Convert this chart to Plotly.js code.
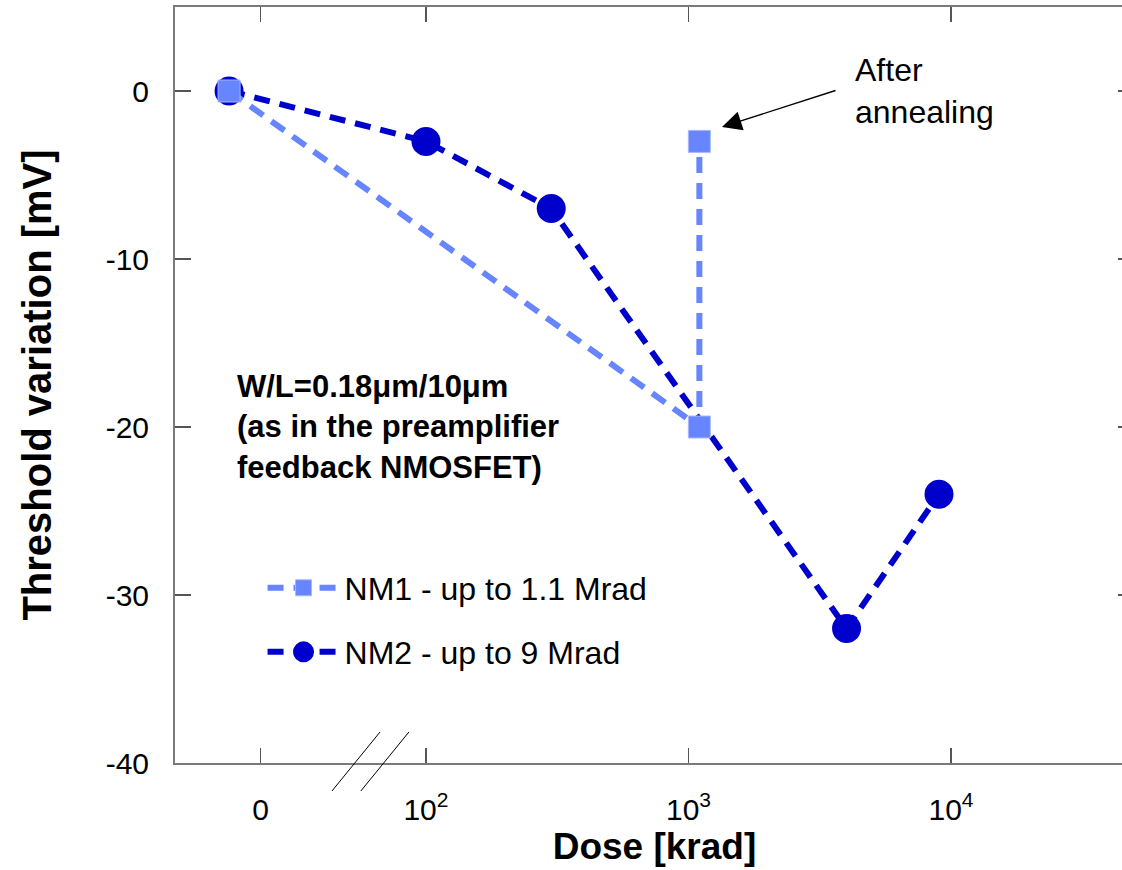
<!DOCTYPE html>
<html>
<head>
<meta charset="utf-8">
<script src="https://cdn.plot.ly/plotly-3.0.1.min.js"></script>
<style>
html, body { margin: 0; padding: 0; background: #fff; overflow: hidden; }
#chart { width: 1140px; height: 870px; }
</style>
</head>
<body>
<div id="chart"></div>
<script>
// ---- data (dose in krad, threshold variation in mV) ----
const nm1Dose = [0, 1100, 1100];
const nm1Shift = [0, -20, -3];
const nm2Dose = [0, 100, 300, 4000, 9000];
const nm2Shift = [0, -3, -7, -32, -24];
const tickDoses = [0, 100, 1000, 10000];
const tickLabels = ['0', '10<sup>2</sup>', '10<sup>3</sup>', '10<sup>4</sup>'];
const yTickVals = [0, -10, -20, -30, -40];
const yTickLabels = ['0', '-10', '-20', '-30', '-40'];
const nm1Name = 'NM1 - up to 1.1 Mrad';
const nm2Name = 'NM2 - up to 9 Mrad';

// broken log axis: zero dose is shown left of the axis break
const ZERO_POINT_POS = 1.25;
const ZERO_TICK_POS = 1.37;
function pos(d) { return d === 0 ? ZERO_POINT_POS : Math.log10(d); }
function tickPos(d) { return d === 0 ? ZERO_TICK_POS : Math.log10(d); }

const FONT = 'Liberation Sans, Arial, Helvetica, sans-serif';
const c1 = '#6685FF';
const c2 = '#0000CC';

const traces = [
  {
    x: nm2Dose.map(pos), y: nm2Shift, name: nm2Name, legend: 'legend2',
    mode: 'lines+markers', type: 'scatter',
    line: { color: c2, width: 6, dash: '16px,10px' },
    marker: { symbol: 'circle', size: 24, color: c2, line: { color: c2, width: 5 } }
  },
  {
    x: nm1Dose.map(pos), y: nm1Shift, name: nm1Name, legend: 'legend',
    mode: 'lines+markers', type: 'scatter',
    line: { color: c1, width: 6, dash: '16px,10px' },
    marker: { symbol: 'square', size: 22, color: c1, line: { color: '#A8B8FF', width: 1 } }
  }
];

const legendCommon = {
  xanchor: 'left', yanchor: 'middle', bgcolor: 'rgba(0,0,0,0)', borderwidth: 0,
  font: { family: FONT, size: 32, color: '#000' }, itemwidth: 72,
  itemclick: false, itemdoubleclick: false
};

const layout = {
  width: 1140, height: 870,
  margin: { l: 175, r: 6, t: 7, b: 107 },
  paper_bgcolor: '#fff', plot_bgcolor: '#fff',
  font: { family: FONT, color: '#000' },
  showlegend: true,
  legend: Object.assign({ x: 0.0913, y: 0.2315 }, legendCommon),
  legend2: Object.assign({ x: 0.0913, y: 0.1468 }, legendCommon),
  xaxis: {
    range: [1.044, 4.697],
    tickmode: 'array', tickvals: tickDoses.map(tickPos), ticktext: tickLabels,
    ticks: 'inside', ticklen: 15, tickwidth: 1.2, tickcolor: '#555',
    showline: true, linecolor: '#7a7a7a', linewidth: 2, mirror: 'allticks',
    showgrid: false, zeroline: false,
    tickfont: { family: FONT, size: 30, color: '#000' },
    ticklabelstandoff: 19,
    title: { text: 'Dose [krad]', font: { family: FONT, size: 37, weight: 'bold', color: '#000' }, standoff: 4 }
  },
  yaxis: {
    range: [-40, 5],
    tickmode: 'array', tickvals: yTickVals, ticktext: yTickLabels,
    ticks: 'inside', ticklen: 16, tickwidth: 1.2, tickcolor: '#555',
    showline: true, linecolor: '#7a7a7a', linewidth: 2, mirror: 'allticks',
    showgrid: false, zeroline: false,
    tickfont: { family: FONT, size: 30, color: '#000' },
    ticklabelstandoff: 18,
    title: { text: 'Threshold variation [mV]', font: { family: FONT, size: 40, weight: 'bold', color: '#000' }, standoff: 42 }
  },
  annotations: [
    {
      xref: 'paper', yref: 'y', x: 0.063, y: -20, xanchor: 'left', yanchor: 'middle',
      align: 'left', showarrow: false,
      text: 'W/L=0.18μm/10μm<br>(as in the preamplifier<br>feedback NMOSFET)',
      font: { family: FONT, size: 31, weight: 'bold', color: '#000' }
    },
    {
      xref: 'paper', yref: 'paper', x: 0.707, y: 0.889, xanchor: 'left', yanchor: 'middle',
      align: 'left', showarrow: false,
      text: 'After<br>annealing',
      font: { family: FONT, size: 32, color: '#000' }
    },
    {
      xref: 'paper', yref: 'paper', x: 0.5704, y: 0.8413,
      text: '', showarrow: true, ax: 115, ay: -37,
      arrowhead: 2, arrowsize: 2.8, arrowwidth: 1.4, arrowcolor: '#000', standoff: 0
    }
  ],
  shapes: [
    { type: 'line', xref: 'x', yref: 'paper', x0: 1.642, x1: 1.825, y0: -0.037, y1: 0.041, line: { color: '#000', width: 1 } },
    { type: 'line', xref: 'x', yref: 'paper', x0: 1.752, x1: 1.935, y0: -0.037, y1: 0.041, line: { color: '#000', width: 1 } }
  ]
};

Plotly.newPlot('chart', traces, layout, { displayModeBar: false, staticPlot: true });
</script>
</body>
</html>
